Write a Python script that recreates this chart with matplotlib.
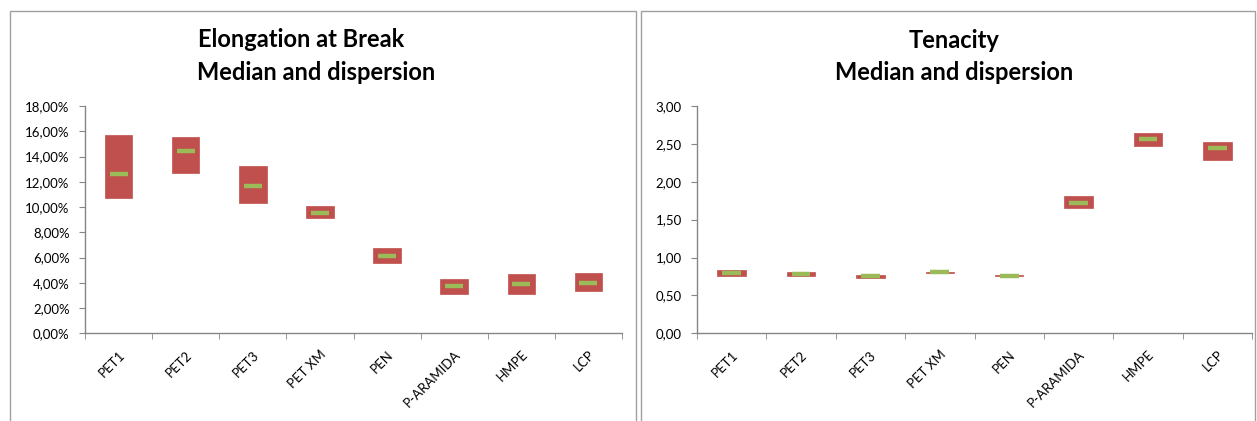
import matplotlib
matplotlib.use("Agg")
import matplotlib.pyplot as plt
import matplotlib.transforms as mtrans
from matplotlib.patches import Rectangle
from matplotlib.ticker import FuncFormatter, MultipleLocator, FixedLocator
import numpy as np

categories = ["PET1", "PET2", "PET3", "PET XM", "PEN", "P-ARAMIDA", "HMPE", "LCP"]

# Elongation at break (%)
elong_low = [10.69, 12.66, 10.29, 9.10, 5.59, 3.09, 3.09, 3.35]
elong_high = [15.70, 15.54, 13.27, 10.08, 6.73, 4.30, 4.67, 4.75]
elong_median = [12.64, 14.41, 11.64, 9.55, 6.15, 3.72, 3.88, 4.01]

# Tenacity
ten_low = [0.761, 0.761, 0.735, 0.800, 0.752, 1.65, 2.47, 2.29]
ten_high = [0.836, 0.805, 0.770, 0.815, 0.770, 1.81, 2.64, 2.53]
ten_median = [0.80, 0.787, 0.752, 0.81, 0.761, 1.725, 2.565, 2.44]

RED = "#C0504D"
GREEN = "#9BBB59"
AXC = "#868686"
FONT = ["Lato", "DejaVu Sans"]

W, H = 1257, 421
fig = plt.figure(figsize=(W / 100, H / 100), dpi=100)
fig.patch.set_facecolor("white")


def px_rect(x0, y0, x1, y1):
    return [x0 / W, 1 - y1 / H, (x1 - x0) / W, (y1 - y0) / H]


# panel borders
for (x0, x1) in [(10, 636), (641, 1255)]:
    fig.add_artist(Rectangle((x0 / W, -0.05), (x1 - x0) / W, 1 - 11 / H + 0.05,
                             transform=fig.transFigure, fill=False,
                             edgecolor="#A0A0A0", linewidth=1.0))


def draw(ax, low, high, med, ymax, step, fmt):
    x = np.arange(len(categories))
    low = np.array(low)
    high = np.array(high)
    ax.bar(x, high - low, bottom=low, width=0.41, color=RED, edgecolor=RED,
           linewidth=0.5, zorder=2)
    ax.hlines(med, x - 0.135, x + 0.135, colors=GREEN, linewidth=3.2, zorder=3)
    ax.set_xlim(-0.5, len(categories) - 0.5)
    ax.set_ylim(0, ymax)
    ax.yaxis.set_major_locator(MultipleLocator(step))
    ax.yaxis.set_major_formatter(FuncFormatter(fmt))
    for s in ["top", "right"]:
        ax.spines[s].set_visible(False)
    for s in ["left", "bottom"]:
        ax.spines[s].set_color(AXC)
        ax.spines[s].set_linewidth(1.0)
    ax.xaxis.set_major_locator(FixedLocator(x))
    ax.set_xticklabels(categories, rotation=45, ha="right", va="center",
                       rotation_mode="anchor", fontsize=9.5, family=FONT)
    ax.tick_params(axis="x", which="major", length=0, pad=14)
    ax.xaxis.set_minor_locator(FixedLocator(np.arange(len(categories) + 1) - 0.5))
    ax.tick_params(axis="x", which="minor", length=4, color=AXC, direction="out")
    ax.tick_params(axis="y", length=4, color=AXC, direction="out", pad=7,
                   labelsize=9.5)
    for lab in ax.get_yticklabels():
        lab.set_family(FONT)
    off = mtrans.ScaledTranslation(4 / 100, 0, fig.dpi_scale_trans)
    for lab in ax.get_xticklabels():
        lab.set_transform(lab.get_transform() + off)


ax1 = fig.add_axes(px_rect(85, 106, 622, 333.3))
draw(ax1, elong_low, elong_high, elong_median, 18, 2,
     lambda v, p: ("%.2f%%" % v).replace(".", ","))

ax2 = fig.add_axes(px_rect(697, 106, 1252, 333.3))
draw(ax2, ten_low, ten_high, ten_median, 3, 0.5,
     lambda v, p: ("%.2f" % v).replace(".", ","))

# titles
tkw = dict(fontsize=17, fontweight="bold", family=FONT, va="baseline",
           transform=fig.transFigure)
fig.text(198 / W, 1 - 47 / H, "Elongation at Break", ha="left", **tkw)
fig.text(197 / W, 1 - 80 / H, "Median and dispersion", ha="left", **tkw)
fig.text(954 / W, 1 - 48 / H, "Tenacity", ha="center", **tkw)
fig.text(954 / W, 1 - 80 / H, "Median and dispersion", ha="center", **tkw)

fig.savefig("out.png", dpi=100, facecolor="white")
